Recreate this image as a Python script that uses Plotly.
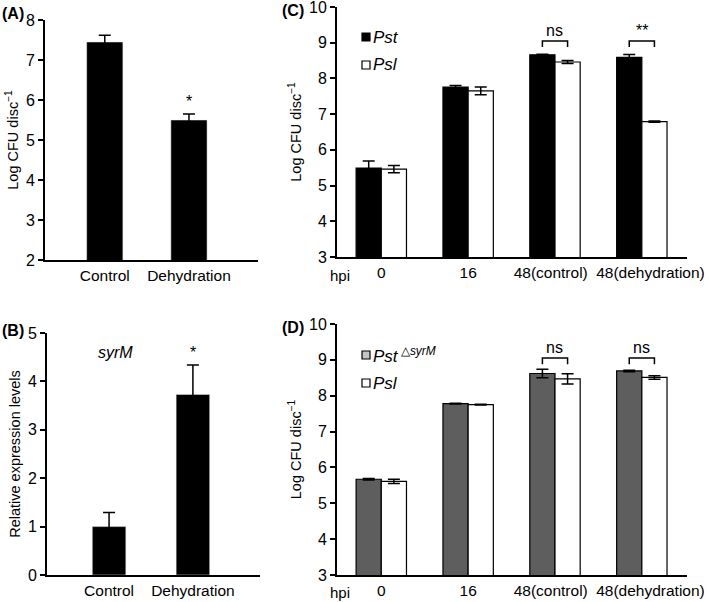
import plotly.graph_objects as go

# panel A
a_cats = ["Control", "Dehydration"]
a_vals = [7.45, 5.50]
a_err = [0.17, 0.15]

# panel B
b_cats = ["Control", "Dehydration"]
b_vals = [1.0, 3.73]
b_err = [0.29, 0.61]

# panels C / D
hpi = ["0", "16", "48(control)", "48(dehydration)"]
hpi_labels = ["0", "16", "48(control)\u00a0\u00a0", "\u00a0\u00a0\u00a0\u00a048(dehydration)"]
c_pst = [5.49, 7.76, 8.66, 8.59]
c_pst_err = [0.20, 0.04, 0.02, 0.08]
c_psl = [5.46, 7.65, 8.46, 6.79]
c_psl_err = [0.10, 0.11, 0.04, 0.02]
d_pst = [5.67, 7.78, 8.62, 8.69]
d_pst_err = [0.02, 0.01, 0.12, 0.02]
d_psl = [5.61, 7.75, 8.47, 8.51]
d_psl_err = [0.06, 0.01, 0.14, 0.05]
c_sig = ["", "", "ns", "**"]
d_sig = ["", "", "ns", "ns"]
c_names = ["<i>Pst</i>", "<i>Psl</i>"]
d_names = ["<i>Pst</i><sup> △<i>syrM</i></sup>", "<i>Psl</i>"]

W, H = 709, 602
FONT = "Liberation Sans, Arial, sans-serif"


def px_dom(a, b, n):
    return [a / n, b / n]


def ydom(top, bottom):
    return [1 - bottom / H, 1 - top / H]


fig = go.Figure()

err = lambda arr: dict(type="data", array=arr, color="black", thickness=1.5, width=6)

fig.add_trace(go.Bar(x=a_cats, y=a_vals, error_y=err(a_err), width=0.43,
                     marker=dict(color="black"), xaxis="x", yaxis="y"))
fig.add_trace(go.Bar(x=b_cats, y=b_vals, error_y=err(b_err), width=0.40,
                     marker=dict(color="black"), xaxis="x2", yaxis="y2"))

bw = 0.29
fig.add_trace(go.Bar(x=hpi, y=c_pst, error_y=err(c_pst_err), width=bw, offset=-bw,
                     marker=dict(color="black", line=dict(color="black", width=1.2)),
                     name=c_names[0], xaxis="x3", yaxis="y3"))
fig.add_trace(go.Bar(x=hpi, y=c_psl, error_y=err(c_psl_err), width=bw, offset=0,
                     marker=dict(color="white", line=dict(color="black", width=1.2)),
                     name=c_names[1], xaxis="x3", yaxis="y3"))
fig.add_trace(go.Bar(x=hpi, y=d_pst, error_y=err(d_pst_err), width=bw, offset=-bw,
                     marker=dict(color="#5e5e5e", line=dict(color="black", width=1.2)),
                     name=d_names[0], xaxis="x4", yaxis="y4"))
fig.add_trace(go.Bar(x=hpi, y=d_psl, error_y=err(d_psl_err), width=bw, offset=0,
                     marker=dict(color="white", line=dict(color="black", width=1.2)),
                     name=d_names[1], xaxis="x4", yaxis="y4"))

xtickfont = dict(family=FONT, size=15.5, color="black")
ytickfont = dict(family=FONT, size=16, color="black")
xcommon = dict(type="category", showline=True, linecolor="black", linewidth=2,
               ticks="", tickfont=xtickfont, tickangle=0, automargin=False,
               ticklabeloverflow="allow", showgrid=False, zeroline=False, fixedrange=True)
ycommon = dict(showline=True, linecolor="black", linewidth=2, ticks="outside",
               ticklen=5, tickwidth=1.5, tickcolor="black", tickfont=ytickfont,
               showgrid=False, zeroline=False, dtick=1, automargin=False,
               ticklabeloverflow="allow", fixedrange=True,
               title=dict(font=dict(family=FONT, size=14.5, color="black"), standoff=4))
hpi_ticks = dict(tickmode="array", tickvals=hpi, ticktext=hpi_labels)

ytitle_cfu = "Log CFU disc<sup>−1</sup>"

fig.update_layout(
    width=W, height=H, barmode="overlay", showlegend=False,
    paper_bgcolor="white", plot_bgcolor="white",
    margin=dict(l=0, r=0, t=0, b=0),
    font=dict(family=FONT, color="black"),
    xaxis=dict(xcommon, domain=px_dom(45, 258, W), range=[-0.71, 1.82], anchor="y"),
    yaxis=dict(ycommon, domain=ydom(20, 260), range=[2, 8], anchor="x",
               title=dict(ycommon["title"], text=ytitle_cfu)),
    xaxis2=dict(xcommon, domain=px_dom(47, 260, W), range=[-0.74, 1.8], anchor="y2"),
    yaxis2=dict(ycommon, domain=ydom(333, 575), range=[0, 5], anchor="x2",
                title=dict(ycommon["title"], text="Relative expression levels")),
    xaxis3=dict(xcommon, **hpi_ticks, domain=px_dom(337, 687, W), range=[-0.51, 3.52], anchor="y3"),
    yaxis3=dict(ycommon, domain=ydom(7, 257), range=[3, 10], anchor="x3",
                title=dict(ycommon["title"], text=ytitle_cfu)),
    xaxis4=dict(xcommon, **hpi_ticks, domain=px_dom(337, 687, W), range=[-0.51, 3.52], anchor="y4"),
    yaxis4=dict(ycommon, domain=ydom(324, 575), range=[3, 10], anchor="x4",
                title=dict(ycommon["title"], text=ytitle_cfu)),
)

ann = []
shapes = []
for txt, x, y in [("(A)", 0, 3), ("(B)", 0, 320), ("(C)", 280, 0), ("(D)", 280, 317)]:
    ann.append(dict(text="<b>" + txt + "</b>", x=x / W, y=1 - y / H, xref="paper", yref="paper",
                    xanchor="left", yanchor="top", showarrow=False,
                    font=dict(family=FONT, size=16, color="black")))
for y in [275, 592]:
    ann.append(dict(text="hpi", x=328 / W, y=1 - y / H, xref="paper", yref="paper",
                    xanchor="left", yanchor="middle", showarrow=False,
                    font=dict(family=FONT, size=15, color="black")))

# legends (drawn by hand: small squares + italic labels)
legend_items = [
    (c_names[0], "black", 37), (c_names[1], "white", 65),
    (d_names[0], "#c4c4c4", 355), (d_names[1], "white", 383),
]
for name, fill, yc in legend_items:
    shapes.append(dict(type="rect", xref="paper", yref="paper",
                       x0=362 / W, x1=370 / W, y0=1 - (yc + 4) / H, y1=1 - (yc - 4) / H,
                       fillcolor=fill, line=dict(color="black", width=1.2)))
    ann.append(dict(text=name, x=371 / W, y=1 - yc / H, xref="paper", yref="paper",
                    xanchor="left", yanchor="middle", showarrow=False,
                    font=dict(family=FONT, size=17, color="black")))

# significance marks
ann.append(dict(text="*", x=1, y=a_vals[1] + a_err[1] + 0.05, xref="x", yref="y",
                yanchor="bottom", showarrow=False, font=dict(family=FONT, size=16)))
ann.append(dict(text="*", x=1, y=b_vals[1] + b_err[1] + 0.05, xref="x2", yref="y2",
                yanchor="bottom", showarrow=False, font=dict(family=FONT, size=16)))
ann.append(dict(text="<i>syrM</i>", x=0.08, y=4.6, xref="x2", yref="y2",
                showarrow=False, font=dict(family=FONT, size=16)))

for sig, xa, ya in [(c_sig, "x3", "y3"), (d_sig, "x4", "y4")]:
    for i, s in enumerate(sig):
        if not s:
            continue
        lo, hi = 8.88, 9.05
        path = f"M {i - bw / 2},{lo} L {i - bw / 2},{hi} L {i + bw / 2},{hi} L {i + bw / 2},{lo}"
        shapes.append(dict(type="path", path=path, xref=xa, yref=ya,
                           line=dict(color="black", width=1.5)))
        ann.append(dict(text=s, x=i, y=hi, xref=xa, yref=ya, yanchor="bottom",
                        showarrow=False, font=dict(family=FONT, size=16, color="black")))

fig.update_layout(annotations=ann, shapes=shapes)
# page body has a default margin; drop it so the figure sits at the window corner
fig.write_html("out.html", config={"displayModeBar": False},
               post_script="document.body.style.margin='0';")
